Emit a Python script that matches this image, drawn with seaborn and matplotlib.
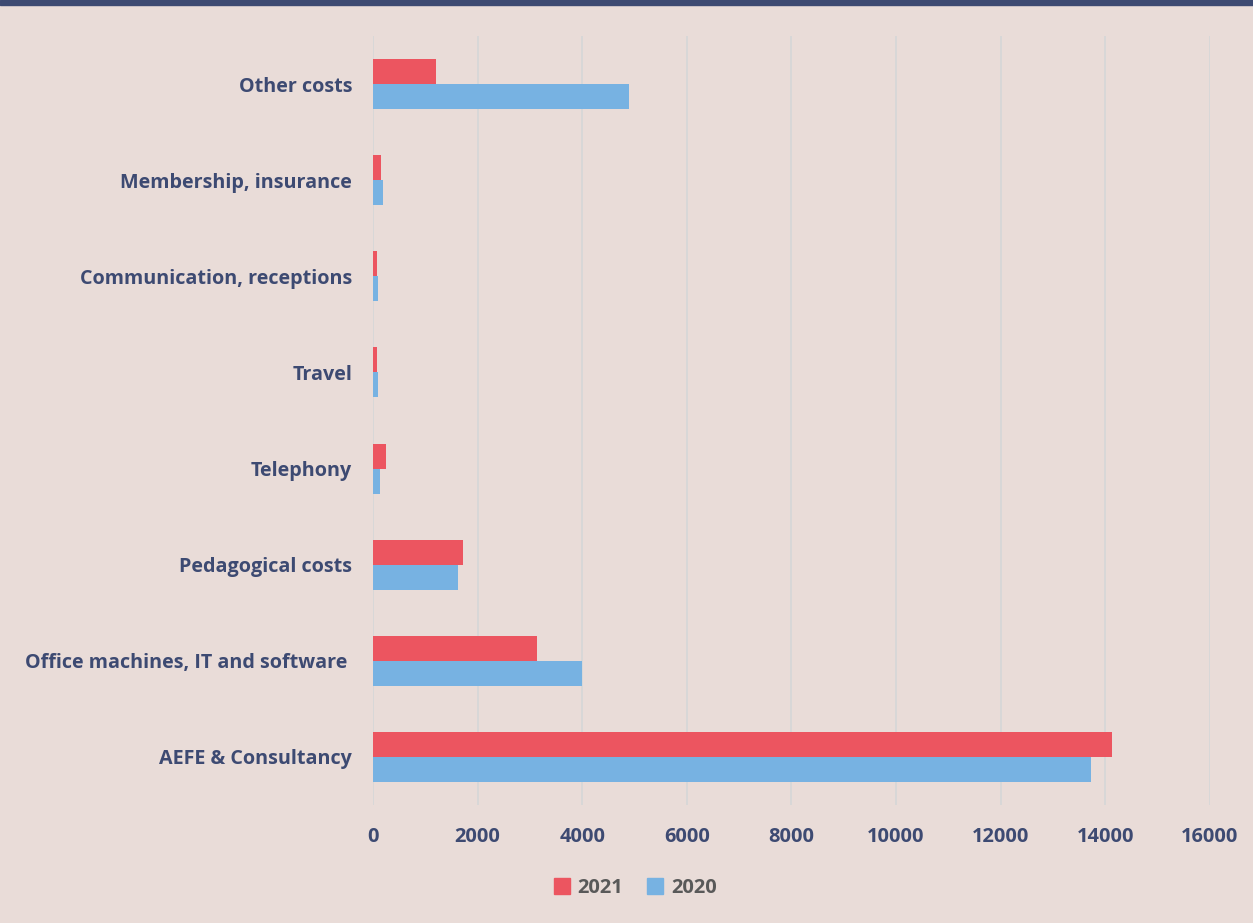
import matplotlib
matplotlib.use("Agg")
import matplotlib.pyplot as plt
import seaborn as sns
import pandas as pd

categories = ["Other costs", "Membership, insurance", "Communication, receptions",
              "Travel", "Telephony", "Pedagogical costs",
              "Office machines, IT and software ", "AEFE & Consultancy"]
values_2021 = [1200, 150, 70, 70, 245, 1720, 3140, 14140]
values_2020 = [4890, 200, 95, 95, 140, 1630, 4000, 13720]
years = ["2021", "2020"]
x_ticks = [0, 2000, 4000, 6000, 8000, 10000, 12000, 14000, 16000]

df = pd.DataFrame({
    "category": categories * 2,
    "value": values_2021 + values_2020,
    "year": [years[0]] * len(categories) + [years[1]] * len(categories),
})

BG = "#E9DCD8"
NAVY = "#3D4A72"
RED = "#EC5560"
BLUE = "#77B2E2"

sns.set_theme(style="white")
plt.rcParams["font.family"] = ["Open Sans", "DejaVu Sans"]

fig = plt.figure(figsize=(12.53, 9.23), dpi=100, facecolor=BG)
ax = fig.add_axes([0.2977, 0.1278, 0.6678, 0.8332])
ax.set_facecolor(BG)

sns.barplot(data=df, y="category", x="value", hue="year", order=categories,
            hue_order=years, palette={"2021": RED, "2020": BLUE},
            orient="h", width=0.52, ax=ax, saturation=1, edgecolor="none")

ax.set_xlim(0, 16000)
ax.set_xticks(x_ticks)
ax.set_xticklabels([str(t) for t in x_ticks])
ax.set_xlabel("")
ax.set_ylabel("")
ax.grid(axis="x", color="#D7D7D7", linewidth=1.3)
ax.grid(axis="y", visible=False)
ax.set_axisbelow(True)
for s in ax.spines.values():
    s.set_visible(False)
ax.tick_params(axis="both", length=0)
ax.tick_params(axis="y", pad=15)
ax.tick_params(axis="x", pad=16)
for lbl in ax.get_yticklabels():
    lbl.set_fontsize(14.2)
    lbl.set_fontweight("bold")
    lbl.set_color(NAVY)
for lbl in ax.get_xticklabels():
    lbl.set_fontsize(14.4)
    lbl.set_fontweight("bold")
    lbl.set_color(NAVY)

ax.legend_.remove()
handles = [plt.Rectangle((0, 0), 1, 1, color=RED), plt.Rectangle((0, 0), 1, 1, color=BLUE)]
leg = fig.legend(handles, years, loc="center", bbox_to_anchor=(0.507, 0.038), ncol=2,
                 frameon=False, handlelength=0.8, handleheight=0.8, handletextpad=0.4,
                 columnspacing=1.2, prop={"size": 14.4, "weight": "bold"})
for t in leg.get_texts():
    t.set_color("#595959")

# top navy band
fig.add_artist(plt.Rectangle((0, 1 - 5 / 923), 1, 5 / 923, transform=fig.transFigure,
                             color=NAVY, zorder=10))

fig.savefig("out.png", dpi=100, facecolor=BG)
